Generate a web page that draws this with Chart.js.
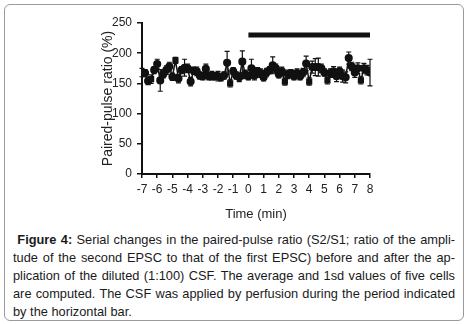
<!DOCTYPE html>
<html>
<head>
<meta charset="utf-8">
<script src="https://cdn.jsdelivr.net/npm/chart.js@4.4.1/dist/chart.umd.min.js"></script>
<style>
  html, body { margin: 0; padding: 0; background: #fff; }
  body { width: 468px; height: 324px; position: relative; overflow: hidden; }
  #frame {
    position: absolute; left: 4px; top: 4px; width: 458px; height: 315px;
    border: 1px solid #9a9a9a; border-radius: 6px;
  }
  #wrap { position: absolute; left: 0; top: 0; width: 468px; height: 230px; }
  #caption {
    position: absolute; left: 13px; top: 231px; width: 442px;
    font-family: "Liberation Sans", Arial, sans-serif; font-size: 12.8px;
    line-height: 18px; color: #1a1a1a;
  }
  #caption div { text-align: justify; text-align-last: justify; white-space: nowrap; }
  #caption div.last { text-align-last: left; }
</style>
</head>
<body>
<div id="frame"></div>
<div id="wrap"><canvas id="chart" width="468" height="230"></canvas></div>
<div id="caption">
  <div>&nbsp;<b>Figure 4:</b> Serial changes in the paired-pulse ratio (S2/S1; ratio of the ampli-</div>
  <div>tude of the second EPSC to that of the first EPSC) before and after the ap-</div>
  <div>plication of the diluted (1:100) CSF. The average and 1sd values of five cells</div>
  <div>are computed. The CSF was applied by perfusion during the period indicated</div>
  <div class="last">by the horizontal bar.</div>
</div>
<script>
// time (min)
var times = [-7, -6.8, -6.6, -6.4, -6.2, -6, -5.8, -5.6, -5.4, -5.2,
  -5, -4.8, -4.6, -4.4, -4.2, -4, -3.8, -3.6, -3.4, -3.2,
  -3, -2.8, -2.6, -2.4, -2.2, -2, -1.8, -1.6, -1.4, -1.2,
  -1, -0.8, -0.6, -0.4, -0.2, 0, 0.2, 0.4, 0.6, 0.8,
  1, 1.2, 1.4, 1.6, 1.8, 2, 2.2, 2.4, 2.6, 2.8,
  3, 3.2, 3.4, 3.6, 3.8, 4, 4.2, 4.4, 4.6, 4.8,
  5, 5.2, 5.4, 5.6, 5.8, 6, 6.2, 6.4, 6.6, 6.8,
  7, 7.2, 7.4, 7.6, 7.8, 8];
// paired-pulse ratio (%)
var ratio = [168, 167, 154, 157, 172, 182, 155, 165, 172, 178,
  161, 188, 158, 172, 176, 175, 153, 171, 170, 163,
  162, 174, 162, 163, 162, 162, 160, 163, 184, 150,
  170, 163, 160, 186, 165, 162, 175, 163, 170, 167,
  160, 168, 172, 180, 175, 165, 170, 153, 165, 167,
  162, 167, 162, 168, 183, 153, 177, 177, 177, 175,
  168, 155, 167, 170, 162, 170, 162, 160, 192, 178,
  168, 175, 155, 175, 172, 168];
// 1 sd
var sd = [7, 6, 6, 7, 6, 8, 18, 6, 7, 7,
  6, 5, 7, 6, 14, 7, 7, 6, 7, 6,
  6, 8, 6, 7, 6, 8, 6, 6, 19, 6,
  6, 6, 7, 18, 7, 6, 15, 7, 6, 7,
  6, 7, 6, 14, 7, 6, 7, 6, 7, 6,
  6, 7, 6, 7, 12, 6, 10, 14, 15, 7,
  6, 6, 7, 8, 9, 7, 10, 9, 10, 7,
  8, 9, 6, 8, 8, 22];
var markers = ['circle', 'circle', 'circle', 'rect', 'circle', 'circle', 'circle', 'circle', 'circle', 'circle',
  'circle', 'rect', 'circle', 'circle', 'circle', 'circle', 'circle', 'circle', 'circle', 'circle',
  'circle', 'circle', 'circle', 'circle', 'circle', 'circle', 'circle', 'circle', 'circle', 'rect',
  'circle', 'circle', 'circle', 'circle', 'circle', 'circle', 'circle', 'circle', 'circle', 'circle',
  'circle', 'circle', 'circle', 'circle', 'circle', 'circle', 'circle', 'rect', 'circle', 'circle',
  'circle', 'circle', 'circle', 'circle', 'circle', 'rect', 'circle', 'circle', 'circle', 'circle',
  'circle', 'rect', 'circle', 'circle', 'circle', 'circle', 'circle', 'circle', 'circle', 'circle',
  'circle', 'circle', 'rect', 'circle', 'circle', 'circle'];
// perfusion period (min) and bar level
var perfusion = [0, 8];
var barLevel = 230;
var xTicks = [-7, -6, -5, -4, -3, -2, -1, 0, 1, 2, 3, 4, 5, 6, 7, 8];
var yTicks = [0, 50, 100, 150, 200, 250];

var ink = '#111';

var points = times.map(function(t, i) { return { x: t, y: ratio[i] }; });
var barPts = perfusion.map(function(t) { return { x: t, y: barLevel }; });

// sd error bars drawn before the markers
var errorBars = {
  id: 'errorBars',
  beforeDatasetsDraw: function(chart) {
    var ctx = chart.ctx, xs = chart.scales.x, ys = chart.scales.y;
    ctx.save();
    ctx.strokeStyle = ink;
    ctx.lineWidth = 1.2;
    for (var i = 0; i < times.length; i++) {
      var px = xs.getPixelForValue(times[i]);
      var top = ys.getPixelForValue(ratio[i] + sd[i]);
      var bot = ys.getPixelForValue(ratio[i] - sd[i]);
      ctx.beginPath();
      ctx.moveTo(px, top); ctx.lineTo(px, bot);
      ctx.moveTo(px - 2.5, top); ctx.lineTo(px + 2.5, top);
      ctx.moveTo(px - 2.5, bot); ctx.lineTo(px + 2.5, bot);
      ctx.stroke();
    }
    ctx.restore();
  }
};

new Chart(document.getElementById('chart').getContext('2d'), {
  type: 'scatter',
  data: {
    datasets: [
      {
        data: points,
        showLine: true,
        borderColor: ink,
        borderWidth: 1.5,
        backgroundColor: ink,
        pointBackgroundColor: ink,
        pointBorderColor: ink,
        pointRadius: 3.3,
        pointStyle: markers
      },
      {
        data: barPts,
        showLine: true,
        borderColor: ink,
        borderWidth: 5,
        borderCapStyle: 'butt',
        pointRadius: 0
      }
    ]
  },
  options: {
    responsive: false,
    animation: false,
    events: [],
    layout: { padding: { left: 0, right: 98, top: 23, bottom: 0 } },
    plugins: { legend: { display: false }, tooltip: { enabled: false } },
    scales: {
      x: {
        type: 'linear',
        min: -7, max: 8,
        afterFit: function(s) { s.height = 56; },
        afterBuildTicks: function(s) { s.ticks = xTicks.map(function(v) { return { value: v }; }); },
        grid: { drawOnChartArea: false, drawTicks: true, tickLength: 4, color: ink, lineWidth: 1.5 },
        border: { color: ink, width: 2 },
        ticks: {
          color: '#222', padding: 4, maxRotation: 0, autoSkip: false,
          font: { family: '"Liberation Sans Narrow", "Liberation Sans", Arial', size: 12 }
        },
        title: {
          display: true, text: 'Time (min)', color: '#222',
          font: { family: '"Liberation Sans", Arial', size: 13 },
          padding: { top: 0, bottom: 8 }
        }
      },
      y: {
        min: 0, max: 250,
        afterFit: function(s) { s.width = 142; },
        afterBuildTicks: function(s) { s.ticks = yTicks.map(function(v) { return { value: v }; }); },
        grid: { drawOnChartArea: false, drawTicks: true, tickLength: 5, color: ink, lineWidth: 1.5 },
        border: { color: ink, width: 2 },
        ticks: {
          color: '#222', padding: 5,
          font: { family: '"Liberation Sans Narrow", "Liberation Sans", Arial', size: 12 }
        },
        title: {
          display: true, text: 'Paired-pulse ratio (%)', color: '#222',
          font: { family: '"Liberation Sans", Arial', size: 14 },
          padding: { top: 100, bottom: 0 }
        }
      }
    }
  },
  plugins: [errorBars]
});
</script>
</body>
</html>
